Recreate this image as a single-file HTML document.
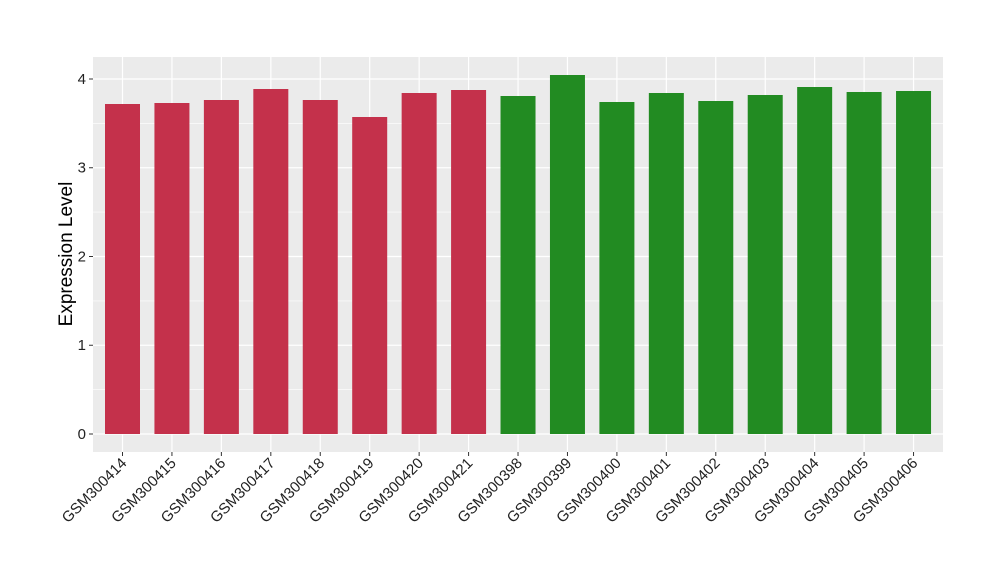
<!DOCTYPE html>
<html><head><style>body{margin:0;background:#fff}</style></head><body>
<svg width="1000" height="580" xmlns="http://www.w3.org/2000/svg" font-family="Liberation Sans, sans-serif">
<rect x="93" y="57" width="850" height="395" fill="#ebebeb"/>
<g stroke="#fff" stroke-width="0.6">
<line x1="93" x2="943" y1="389.6" y2="389.6"/><line x1="93" x2="943" y1="300.9" y2="300.9"/><line x1="93" x2="943" y1="212.1" y2="212.1"/><line x1="93" x2="943" y1="123.4" y2="123.4"/>
</g>
<g stroke="#fff" stroke-width="1.2">
<line x1="93" x2="943" y1="434" y2="434"/><line x1="93" x2="943" y1="345.25" y2="345.25"/><line x1="93" x2="943" y1="256.5" y2="256.5"/><line x1="93" x2="943" y1="167.75" y2="167.75"/><line x1="93" x2="943" y1="79" y2="79"/>
</g>
<g id="v" stroke="#fff" stroke-width="1.2"></g>
<g id="bars"></g>
<g font-size="15" fill="#222" text-anchor="end">
<text x="86" y="439">0</text><text x="86" y="350">1</text><text x="86" y="261.5">2</text><text x="86" y="172.5">3</text><text x="86" y="84">4</text>
</g>
<g stroke="#333" stroke-width="1">
<line x1="89" x2="93" y1="434" y2="434"/><line x1="89" x2="93" y1="345.25" y2="345.25"/><line x1="89" x2="93" y1="256.5" y2="256.5"/><line x1="89" x2="93" y1="167.75" y2="167.75"/><line x1="89" x2="93" y1="79" y2="79"/>
</g>
<text transform="translate(72,254) rotate(-90)" font-size="19" text-anchor="middle" fill="#000">Expression Level</text>
<g id="labels"></g>
<script>
var names=["GSM300414","GSM300415","GSM300416","GSM300417","GSM300418","GSM300419","GSM300420","GSM300421","GSM300398","GSM300399","GSM300400","GSM300401","GSM300402","GSM300403","GSM300404","GSM300405","GSM300406"];
var tops=[104,103,100,89,100,117,93,90,96,75,102,93,101,95,87,92,91];
var ns="http://www.w3.org/2000/svg",b=document.getElementById("bars"),l=document.getElementById("labels"),v=document.getElementById("v");
for(var i=0;i<17;i++){var cx=122.5+i*49.44;
var g=document.createElementNS(ns,"line");g.setAttribute("x1",cx);g.setAttribute("x2",cx);g.setAttribute("y1",57);g.setAttribute("y2",452);v.appendChild(g);
var r=document.createElementNS(ns,"rect");r.setAttribute("x",cx-17.5);r.setAttribute("width",35);r.setAttribute("y",tops[i]);r.setAttribute("height",434-tops[i]);r.setAttribute("fill",i<8?"#c4314b":"#228b22");b.appendChild(r);
var t=document.createElementNS(ns,"line");t.setAttribute("x1",cx);t.setAttribute("x2",cx);t.setAttribute("y1",452);t.setAttribute("y2",456);t.setAttribute("stroke","#333");l.appendChild(t);
var x=document.createElementNS(ns,"text");x.setAttribute("transform","translate("+(cx+5)+",464) rotate(-45)");x.setAttribute("text-anchor","end");x.setAttribute("font-size","15");x.setAttribute("fill","#222");x.textContent=names[i];l.appendChild(x);}
</script>
</svg>
</body></html>
